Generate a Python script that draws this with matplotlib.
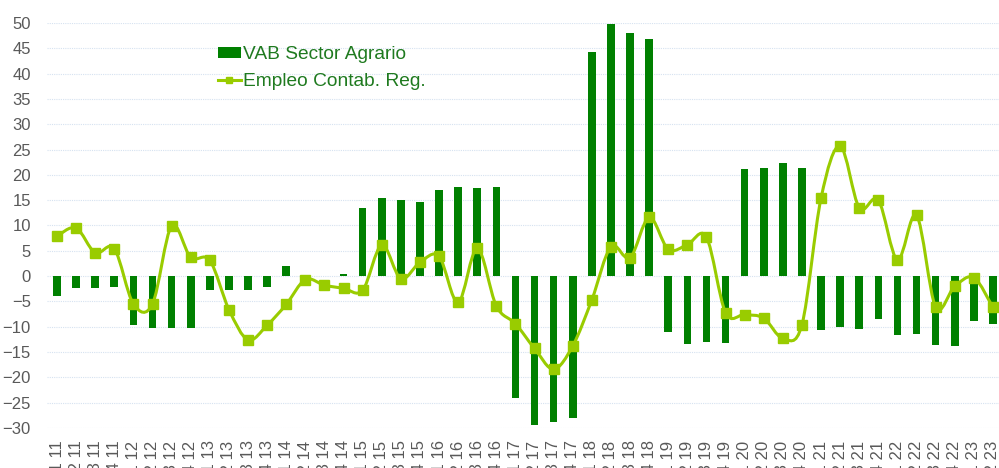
import matplotlib.pyplot as plt
from matplotlib.path import Path
from matplotlib.patches import PathPatch
from matplotlib.lines import Line2D
from matplotlib.patches import Patch
import numpy as np

plt.rcParams['font.family'] = ['Liberation Sans', 'DejaVu Sans']

# quarters t1 2011 .. t2 2023
quarters = [(q, y) for y in range(11, 24) for q in range(1, 5)][:50]
labels = [f"t{q} {y}" for q, y in quarters]

vab = [-3.9, -2.4, -2.4, -2.2, -9.7, -10.3, -10.2, -10.2, -2.8, -2.7,
       -2.7, -2.1, 1.9, 0.1, 0.1, 0.5, 13.4, 15.5, 15.1, 14.7,
       17.0, 17.6, 17.3, 17.5, -24.0, -29.4, -28.9, -28.0, 44.3, 49.7,
       48.1, 46.8, -11.1, -13.5, -13.0, -13.2, 21.1, 21.3, 22.3, 21.3,
       -10.7, -10.1, -10.5, -8.4, -11.7, -11.4, -13.6, -13.8, -8.8, -9.5]

empleo = [7.9, 9.5, 4.6, 5.4, -5.5, -5.5, 9.9, 3.7, 3.1, -6.6,
          -12.6, -9.7, -5.6, -0.7, -1.8, -2.4, -2.8, 6.1, -0.5, 2.7,
          3.9, -5.2, 5.5, -5.9, -9.4, -14.3, -18.4, -13.8, -4.7, 5.8,
          3.6, 11.6, 5.3, 6.2, 7.7, -7.2, -7.6, -8.3, -12.3, -9.6,
          15.4, 25.7, 13.5, 15.0, 3.2, 12.0, -6.1, -2.0, -0.3, -6.2]

bar_color = '#008000'
line_color = '#99cc00'
text_green = '#1f7a1f'

fig = plt.figure(figsize=(9.99, 4.68), dpi=100)
ax = fig.add_axes([0.0475, 0.0855, 0.956, 0.8655])

x = np.arange(len(labels))
ax.bar(x, vab, width=0.4, color=bar_color, zorder=2)

# smoothed line (Excel-style bezier through the points)
pts = np.column_stack([x, empleo]).astype(float)
verts = [pts[0]]
codes = [Path.MOVETO]
n = len(pts)
for i in range(n - 1):
    p0 = pts[i - 1] if i > 0 else pts[i]
    p1 = pts[i]
    p2 = pts[i + 1]
    p3 = pts[i + 2] if i + 2 < n else pts[i + 1]
    c1 = p1 + (p2 - p0) / 6.0
    c2 = p2 - (p3 - p1) / 6.0
    verts += [c1, c2, p2]
    codes += [Path.CURVE4] * 3
ax.add_patch(PathPatch(Path(verts, codes), facecolor='none', edgecolor=line_color,
                       lw=2.2, zorder=3))
ax.plot(x, empleo, linestyle='none', marker='s', markersize=6.5, color=line_color, zorder=4)

ax.set_xlim(-0.5, len(labels) - 0.5)
ax.set_ylim(-30, 50)
ax.set_yticks(range(-30, 51, 5))
ax.set_xticks(x)
ax.set_xticklabels(labels, rotation=90)
ax.tick_params(axis='both', length=0, colors='#595959', labelsize=12)
ax.tick_params(axis='y', pad=12)
ax.tick_params(axis='x', pad=9)
ax.grid(axis='y', color='#d6e2f0', linestyle=(0, (1, 1)), lw=0.8, zorder=0)
ax.set_axisbelow(True)
for s in ax.spines.values():
    s.set_visible(False)

handles = [Patch(facecolor=bar_color, edgecolor='none'),
           Line2D([], [], color=line_color, lw=2.2, marker='s', markersize=5)]
leg = ax.legend(handles, ['VAB Sector Agrario', 'Empleo Contab. Reg.'],
                loc='upper left', bbox_to_anchor=(0.16, 0.985), frameon=False,
                fontsize=13.8, handlelength=1.25, handleheight=0.5,
                handletextpad=0.1, labelspacing=0.5)
for t in leg.get_texts():
    t.set_color(text_green)

fig.savefig('out.png', dpi=100)
